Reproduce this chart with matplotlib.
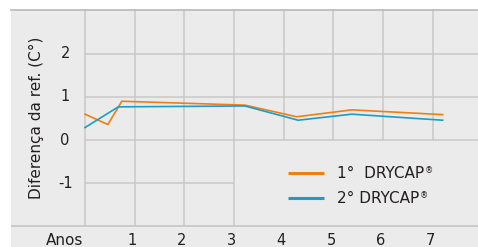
import matplotlib
matplotlib.use("Agg")
import matplotlib.pyplot as plt

plt.rcParams['font.family'] = ['DejaVu Sans']

# Data
years_labels = ["1", "2", "3", "4", "5", "6", "7"]
year_ticks = [1, 2, 3, 4, 5, 6, 7]
y_ticks = [2, 1, 0, -1]
y_tick_labels = ["2", "1", "0", "-1"]

orange_x = [0, 0.46, 0.74, 3.22, 4.26, 5.37, 7.2]
orange_y = [0.60, 0.36, 0.90, 0.81, 0.54, 0.70, 0.59]
blue_x = [0, 0.67, 3.22, 4.29, 5.37, 7.2]
blue_y = [0.29, 0.77, 0.79, 0.46, 0.60, 0.46]

series_names = ["1°  DRYCAP", "2° DRYCAP"]
orange = '#f07f12'
blue = '#1a9dcb'
grid_c = '#c8c8c8'
bg = '#ebebeb'
txt_c = '#231f20'

W, H = 478, 247
fig = plt.figure(figsize=(W/100, H/100), dpi=100)
fig.patch.set_facecolor('white')
ax = fig.add_axes([11/W, 0, (W-11)/W, (H-10)/H])
ax.set_facecolor(bg)
XL, XR = -1.49, 7.91
YB, YT = -2.48, 3.016
ax.set_xlim(XL, XR)
ax.set_ylim(YB, YT)
for s in ['left', 'right', 'bottom']:
    ax.spines[s].set_visible(False)
ax.spines['top'].set_color('#bdbdbd')
ax.spines['top'].set_linewidth(1.3)
ax.set_xticks([])
ax.set_yticks([])

glw = 1.1
# vertical grid
ax.vlines([0, 1, 2, 3], -2, YT, color=grid_c, lw=glw, zorder=1)
ax.vlines([4, 5, 6, 7], 0, YT, color=grid_c, lw=glw, zorder=1)
# horizontal grid
ax.hlines([2, 1, 0], 0, XR, color=grid_c, lw=glw, zorder=1)
ax.hlines([-1], 0, 3, color=grid_c, lw=glw, zorder=1)
ax.hlines([-2], XL, XR, color=grid_c, lw=1.3, zorder=1)

ax.plot(orange_x, orange_y, color=orange, lw=1.2, zorder=3)
ax.plot(blue_x, blue_y, color=blue, lw=1.2, zorder=3)

fs = 10.5
for t, lab in zip(year_ticks, years_labels):
    ax.text(t - 0.05, -2.32, lab, ha='center', va='center', fontsize=fs, color=txt_c)
ax.text(-0.42, -2.32, "Anos", ha='center', va='center', fontsize=11, color=txt_c)
for v, lab in zip(y_ticks, y_tick_labels):
    ax.text(-0.40, v, lab, ha='center', va='center', fontsize=fs, color=txt_c)
ax.text(-0.97, 0.52, "Diferença da ref. (C°)", rotation=90, ha='center', va='center',
        fontsize=11, color=txt_c)

# legend
leg_y = [-0.77, -1.35]
for yy, c, name in zip(leg_y, [orange, blue], series_names):
    ax.plot([4.09, 4.81], [yy, yy], color=c, lw=2.2, zorder=3, solid_capstyle='butt')
    t = ax.text(5.07, yy, name, ha='left', va='center', fontsize=11, color=txt_c)

fig.canvas.draw()
r = fig.canvas.get_renderer()
inv = ax.transData.inverted()
for txt in list(ax.texts):
    if txt.get_text() in series_names:
        bb = txt.get_window_extent(r)
        x1, y1 = inv.transform((bb.x1, bb.y1))
        ax.text(x1 + 0.02, y1, "®", ha='left', va='top', fontsize=6, color=txt_c)

fig.savefig('out.png', dpi=100)
